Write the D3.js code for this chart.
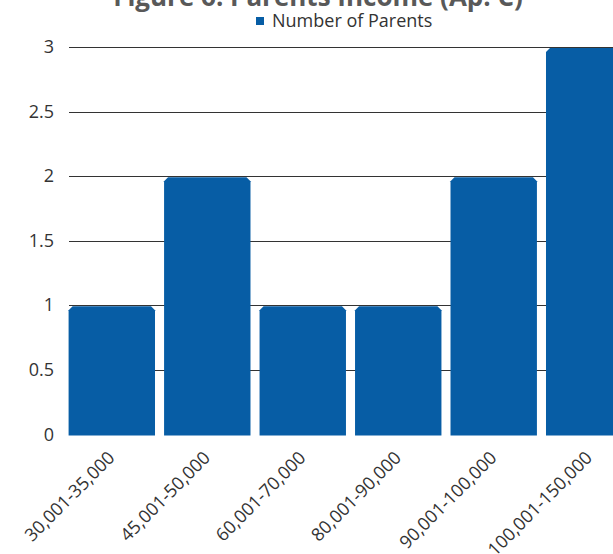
<!DOCTYPE html>
<html>
<head>
<meta charset="utf-8">
<script src="https://cdn.jsdelivr.net/npm/d3@7/dist/d3.min.js"></script>
<style>
  html, body { margin: 0; padding: 0; background: #fff; }
  svg { display: block; font-family: "Open Sans", "Noto Sans", sans-serif; }
</style>
</head>
<body>
<svg id="chart" width="613" height="554"></svg>
<script>
// Income brackets and number of parents in each
const categories = ["30,001-35,000", "45,001-50,000", "60,001-70,000", "80,001-90,000", "90,001-100,000", "100,001-150,000"];
const parents = [1, 2, 1, 1, 2, 3];
const yTicks = [0, 0.5, 1, 1.5, 2, 2.5, 3];
const seriesName = "Number of Parents";
const title = "Figure 6: Parents Income (Ap. C)";

const svg = d3.select("#chart");
const barColor = "#075da5";

const x = d3.scaleBand().domain(categories).range([64.3, 636.7]).paddingInner(0.095).paddingOuter(0.045);
const y = d3.scaleLinear().domain([0, 3]).range([434.5, 47]);

// Title (partly above the top edge)
svg.append("text")
  .attr("x", 318).attr("y", 6)
  .attr("text-anchor", "middle")
  .attr("font-size", 26).attr("font-weight", "bold")
  .attr("fill", "#595959")
  .text(title);

// Legend
svg.append("rect").attr("x", 256).attr("y", 17).attr("width", 8).attr("height", 8).attr("fill", barColor);
svg.append("text").attr("x", 272).attr("y", 27)
  .attr("font-size", 18).attr("fill", "#333")
  .text(seriesName);

// Gridlines
svg.append("g").selectAll("line").data(yTicks.filter(d => d > 0)).join("line")
  .attr("x1", 69).attr("x2", 613)
  .attr("y1", d => Math.round(y(d)) + 0.5).attr("y2", d => Math.round(y(d)) + 0.5)
  .attr("stroke", "#333").attr("stroke-width", 1);

// Y axis tick labels
svg.append("g").selectAll("text").data(yTicks).join("text")
  .attr("x", 54).attr("y", d => y(d) + 6)
  .attr("text-anchor", "end")
  .attr("font-size", 18).attr("fill", "#333")
  .text(d => d);

// Bars with bevelled top corners
const bevel = 4;
svg.append("g").selectAll("path").data(categories).join("path")
  .attr("d", (c, i) => {
    const p = d3.path();
    const x0 = x(c), x1 = x(c) + x.bandwidth();
    const top = y(parents[i]) + 1, base = y(0) + 1;
    p.moveTo(x0, base);
    p.lineTo(x0, top + bevel);
    p.lineTo(x0 + bevel, top);
    p.lineTo(x1 - bevel, top);
    p.lineTo(x1, top + bevel);
    p.lineTo(x1, base);
    p.closePath();
    return p.toString();
  })
  .attr("fill", barColor);

// Rotated category labels
svg.append("g").selectAll("text").data(categories).join("text")
  .attr("transform", c => `translate(${x(c) + x.bandwidth() / 2 + 4},${459}) rotate(-45)`)
  .attr("text-anchor", "end")
  .attr("font-size", 18).attr("fill", "#333")
  .text(c => c);
</script>
</body>
</html>
